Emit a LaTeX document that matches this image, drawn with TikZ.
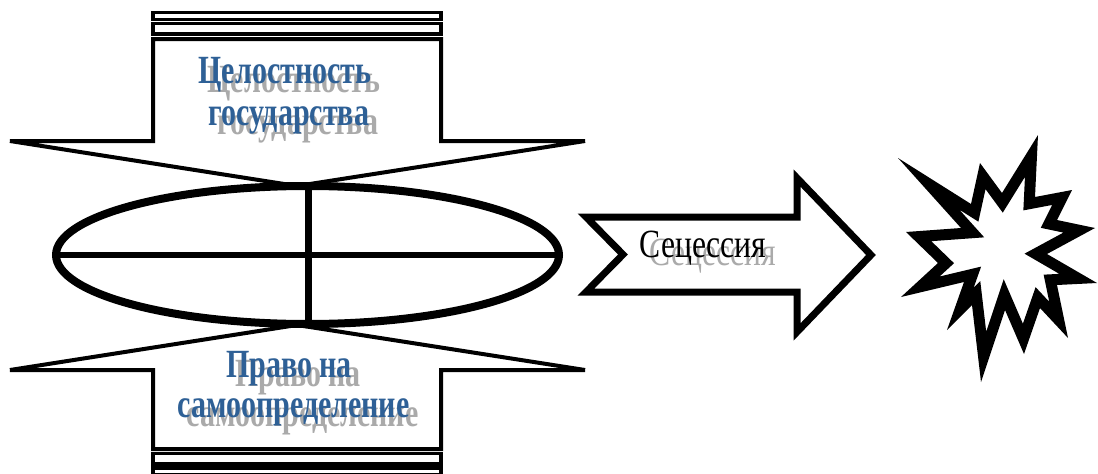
\documentclass[tikz,border=0pt]{standalone}
\usepackage{fontspec}
\newfontfamily\tnrb[FakeStretch=0.75]{Liberation Serif}
\newfontfamily\tnr[FakeStretch=0.79]{Liberation Serif}
\definecolor{tblue}{RGB}{46,96,150}
\definecolor{tshadow}{RGB}{170,170,170}
\def\starpath{(898,158) -- (971,204) -- (980,163) -- (1002,193) -- (1038,135) -- (1035,197) -- (1072,190) -- (1057,220) -- (1095,228) -- (1047,254) -- (1097,283) -- (1057,285) -- (1068,338) -- (1040,308) -- (1024,354) -- (1005,310) -- (981,382) -- (972,305) -- (947,330) -- (964,282) -- (901,297) -- (938,263) -- (906,232) -- (961,228) -- cycle}
\begin{document}
\begin{tikzpicture}[x=1pt,y=-1pt,
  outline/.style={draw=black, fill=white, line join=miter},
  lbl/.style={anchor=base, inner sep=0pt, font=\tnrb\bfseries\fontsize{40}{42}\selectfont},
  seclbl/.style={anchor=base, inner sep=0pt, font=\tnr\fontsize{40}{42}\selectfont}]
\useasboundingbox (0,0) rectangle (1098,474);
% top striped arrow
\draw[outline, line width=3.5] (153,12.5) rectangle (441,19.5);
\draw[outline, line width=3.5] (153,23.5) rectangle (441,34);
\draw[outline, line width=4] (153,39) -- (153,141) -- (10,141) -- (297,186) -- (585,141) -- (441,141) -- (441,39) -- cycle;
% bottom striped arrow
\draw[outline, line width=4] (153,449) -- (153,370) -- (10,370) -- (297,325) -- (585,370) -- (441,370) -- (441,449) -- cycle;
\draw[outline, line width=3.5] (153,453.5) rectangle (441,464);
\draw[outline, line width=3.5] (153,468) rectangle (441,475);
% ellipse with cross
\draw[outline, line width=8] (307.5,255) ellipse [x radius=251.5, y radius=69];
\draw[line width=7] (308,186) -- (308,324);
\draw[line width=6.5] (56,255) -- (559,255);
% notched arrow
\draw[outline, line width=7] (586,217) -- (797,217) -- (797,178) -- (871,255) -- (797,332) -- (797,292) -- (586,292) -- (623,254.5) -- cycle;
% explosion
\fill[white] \starpath;
\begin{scope}
  \clip \starpath;
  \draw[line width=22, line join=miter, miter limit=30] \starpath;
\end{scope}
% texts
\node[lbl, text=tshadow] (t1s) at (294,92) {Целостность};
\node[lbl, text=tblue] (t1) at (285,83) {Целостность};
\node[lbl, text=tshadow] (t2s) at (298,134) {государства};
\node[lbl, text=tblue] (t2) at (289,125) {государства};
\node[lbl, text=tshadow] (b1s) at (298,386) {Право на};
\node[lbl, text=tblue] (b1) at (289,377) {Право на};
\node[lbl, text=tshadow] (b2s) at (302.5,426) {самоопределение};
\node[lbl, text=tblue] (b2) at (293.5,417) {самоопределение};
\node[seclbl, text=tshadow] (ss) at (713,265) {Сецессия};
\node[seclbl, text=black] (s) at (703,257) {Сецессия};
\end{tikzpicture}
\end{document}
